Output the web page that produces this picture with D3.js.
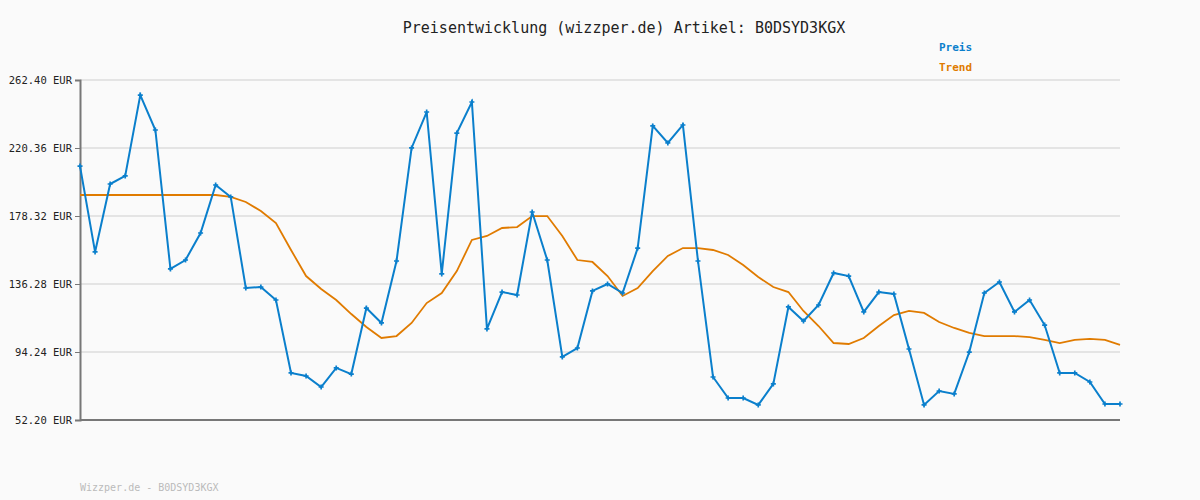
<!DOCTYPE html>
<html>
<head>
<meta charset="utf-8">
<script src="https://cdn.jsdelivr.net/npm/d3@7"></script>
<style>
  body { margin: 0; background: #fafafa; }
  text { font-family: "DejaVu Sans Mono", monospace; }
</style>
</head>
<body>
<div id="chart"></div>
<script>
var svgWidth = 1200;
var svgHeight = 500;
var margin = { top: 80, right: 80, bottom: 80, left: 80 };
var width = svgWidth - margin.left - margin.right;
var height = svgHeight - margin.top - margin.bottom;

// data
var preis = [209.2, 156.1, 198.1, 203.1, 253.1, 231.5, 145.6, 151.1, 167.8, 197.5,
  190.1, 133.8, 134.4, 126.4, 81.3, 79.4, 72.6, 84.4, 80.6, 121.4,
  112.2, 150.5, 220.4, 242.6, 142.5, 229.6, 248.8, 108.5, 131.3, 129.5,
  180.8, 151.1, 91.2, 96.7, 132.0, 136.3, 130.7, 158.5, 234.0, 223.5,
  234.6, 150.5, 78.8, 65.8, 65.8, 61.5, 74.5, 122.1, 113.4, 123.3,
  143.1, 141.2, 119.0, 131.3, 130.1, 96.1, 61.5, 70.1, 68.3, 94.2,
  130.7, 137.5, 119.0, 126.4, 110.9, 81.3, 81.3, 75.7, 62.1, 62.1];
var trend = [191.3, 191.3, 191.3, 191.3, 191.3, 191.3, 191.3, 191.3, 191.3, 191.3,
  190.1, 187.0, 181.4, 174.0, 157.3, 141.2, 133.2, 126.4, 117.7, 109.7,
  102.9, 104.1, 112.2, 124.5, 130.7, 144.3, 163.5, 166.0, 170.9, 171.5,
  178.3, 178.3, 166.0, 151.1, 149.9, 141.2, 128.9, 133.8, 144.3, 153.6,
  158.5, 158.5, 157.3, 154.2, 148.0, 140.6, 134.4, 131.3, 119.6, 110.3,
  99.8, 99.2, 102.9, 110.3, 117.1, 119.6, 118.4, 112.8, 109.1, 106.0,
  104.1, 104.1, 104.1, 103.5, 101.7, 99.8, 101.7, 102.3, 101.7, 98.6];
var yTicks = [52.20, 94.24, 136.28, 178.32, 220.36, 262.40];
var title = "Preisentwicklung (wizzper.de) Artikel: B0DSYD3KGX";
var footer = "Wizzper.de - B0DSYD3KGX";

var blue = "#0a7fcc";
var orange = "#e07b00";

var svg = d3.select("#chart").append("svg")
  .attr("width", svgWidth)
  .attr("height", svgHeight)
  .style("background", "#fafafa");

var chartGroup = svg.append("g")
  .attr("transform", `translate(${margin.left}, ${margin.top})`);

var xScale = d3.scaleLinear().domain([0, preis.length - 1]).range([0, width]);
var yScale = d3.scaleLinear().domain([52.20, 262.40]).range([height, 0]);

// gridlines
chartGroup.selectAll(".grid")
  .data(yTicks.slice(1))
  .enter().append("line")
  .attr("x1", 0).attr("x2", width)
  .attr("y1", d => yScale(d)).attr("y2", d => yScale(d))
  .attr("stroke", "#e4e4e4").attr("stroke-width", 2);

// left axis
var leftAxis = d3.axisLeft(yScale).tickValues(yTicks)
  .tickSize(5).tickFormat(d => d.toFixed(2) + " EUR");
var yAxisG = chartGroup.append("g").call(leftAxis);
yAxisG.select(".domain").attr("stroke", "#777").attr("stroke-width", 2);
yAxisG.selectAll(".tick line").attr("stroke", "#777").attr("stroke-width", 1);
yAxisG.selectAll(".tick text").attr("fill", "#222").style("font-size", "10.5px")
  .style("font-family", "DejaVu Sans Mono").attr("x", -8).attr("dy", "0.35em");

// bottom axis line
chartGroup.append("line")
  .attr("x1", 0).attr("x2", width)
  .attr("y1", height).attr("y2", height)
  .attr("stroke", "#777").attr("stroke-width", 2);

var line = d3.line().x((d, i) => xScale(i)).y(d => yScale(d));

chartGroup.append("path").datum(trend)
  .attr("fill", "none").attr("stroke", orange).attr("stroke-width", 1.8)
  .attr("d", line);

chartGroup.append("path").datum(preis)
  .attr("fill", "none").attr("stroke", blue).attr("stroke-width", 2)
  .attr("d", line);

chartGroup.selectAll(".pt")
  .data(preis)
  .enter().append("path")
  .attr("transform", (d, i) => `translate(${xScale(i)}, ${yScale(d)})`)
  .attr("d", d3.symbol(d3.symbolCross, 14)())
  .attr("fill", blue);

// title
svg.append("text")
  .attr("x", 624).attr("y", 33)
  .attr("text-anchor", "middle")
  .style("font-size", "15px").attr("fill", "#222")
  .text(title);

// legend
svg.append("text").attr("x", 939).attr("y", 51)
  .style("font-size", "11px").style("font-weight", "bold")
  .attr("fill", blue).text("Preis");
svg.append("text").attr("x", 939).attr("y", 71)
  .style("font-size", "11px").style("font-weight", "bold")
  .attr("fill", orange).text("Trend");

// footer
svg.append("text").attr("x", 80).attr("y", 491)
  .style("font-size", "10px").attr("fill", "#bbb").text(footer);
</script>
</body>
</html>
